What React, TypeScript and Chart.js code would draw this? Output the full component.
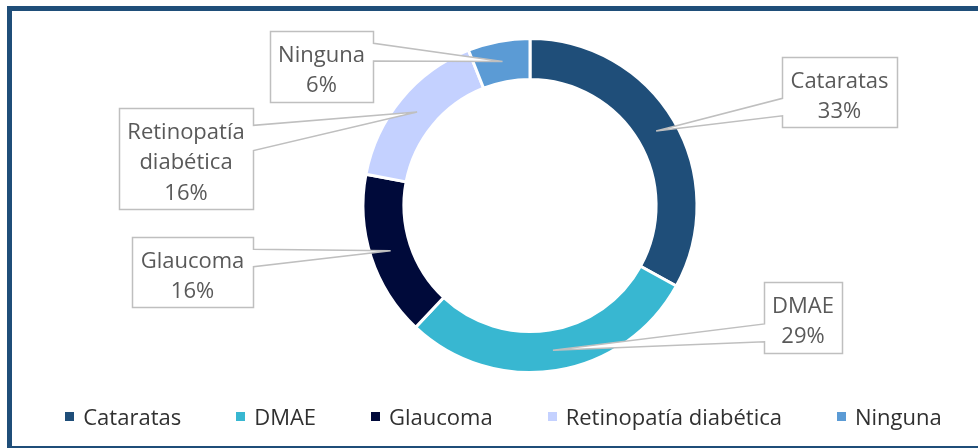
import React, { useEffect, useRef } from "react";
import { Chart, registerables } from "chart.js";

Chart.register(...registerables);

// ---- data ----
const categories = ["Cataratas", "DMAE", "Glaucoma", "Retinopatía diabética", "Ninguna"];
const percentages = [33, 29, 16, 16, 6];
const calloutLines = [["Cataratas"], ["DMAE"], ["Glaucoma"], ["Retinopatía", "diabética"], ["Ninguna"]];
const colors = ["#1F4E79", "#38B7D1", "#000A3A", "#C4D1FF", "#5B9BD5"];

// ---- layout (callout box centres, legend placement) ----
const calloutCenters = [
  [839.5, 92],
  [803, 317.5],
  [192.5, 272],
  [186, 158.5],
  [321.5, 66.5],
];
const LEGEND_CENTER_X = 503.5;
const LEGEND_BASELINE = 425;

const FONT = '"Open Sans", sans-serif';
const FONT_SIZE = 22;

const calloutPlugin = {
  id: "callouts",
  afterDatasetsDraw(chart: any) {
    const ctx = chart.ctx as CanvasRenderingContext2D;
    const meta = chart.getDatasetMeta(0);
    ctx.save();
    ctx.font = `${FONT_SIZE}px ${FONT}`;
    meta.data.forEach((arc: any, i: number) => {
      const tip = arc.getCenterPoint();
      const lines = [...calloutLines[i], `${percentages[i]}%`];
      const tw = Math.max(...lines.map((l) => ctx.measureText(l).width));
      const w = tw + 17;
      const h = 40 + 30.5 * (lines.length - 1);
      const [cx, cy] = calloutCenters[i];
      const l = Math.round(cx - w / 2) + 0.5;
      const r = Math.round(cx + w / 2) + 0.5;
      const t = Math.round(cy - h / 2) + 0.5;
      const b = Math.round(cy + h / 2) + 0.5;
      const hh = b - t;
      const above = tip.y < cy;
      const y1 = t + (hh * (above ? 2 : 7)) / 12;
      const y2 = t + (hh * (above ? 5 : 10)) / 12;
      ctx.beginPath();
      ctx.moveTo(l, t);
      ctx.lineTo(r, t);
      if (tip.x > r) {
        ctx.lineTo(r, y1);
        ctx.lineTo(tip.x, tip.y);
        ctx.lineTo(r, y2);
      }
      ctx.lineTo(r, b);
      ctx.lineTo(l, b);
      if (tip.x < l) {
        ctx.lineTo(l, y2);
        ctx.lineTo(tip.x, tip.y);
        ctx.lineTo(l, y1);
      }
      ctx.closePath();
      ctx.fillStyle = "#FFFFFF";
      ctx.fill();
      ctx.strokeStyle = "#BFBFBF";
      ctx.lineWidth = 1.5;
      ctx.lineJoin = "miter";
      ctx.stroke();
      ctx.fillStyle = "#595959";
      ctx.textAlign = "center";
      ctx.textBaseline = "alphabetic";
      lines.forEach((line, k) => {
        ctx.fillText(line, cx, t + 30 + k * 30.5);
      });
    });
    ctx.restore();
  },
  afterDraw(chart: any) {
    const ctx = chart.ctx as CanvasRenderingContext2D;
    ctx.save();
    ctx.font = `${FONT_SIZE}px ${FONT}`;
    const box = 9;
    const boxGap = 9;
    const itemGap = 55;
    const widths = categories.map((c) => ctx.measureText(c).width);
    const total =
      widths.reduce((s, w) => s + box + boxGap + w, 0) + itemGap * (categories.length - 1);
    let x = LEGEND_CENTER_X - total / 2;
    categories.forEach((c, i) => {
      ctx.fillStyle = colors[i];
      ctx.fillRect(Math.round(x), LEGEND_BASELINE - 13, box, box);
      ctx.fillStyle = "#303030";
      ctx.textAlign = "left";
      ctx.textBaseline = "alphabetic";
      ctx.fillText(c, x + box + boxGap, LEGEND_BASELINE);
      x += box + boxGap + widths[i] + itemGap;
    });
    ctx.restore();
  },
};

export default function App() {
  const canvasRef = useRef<HTMLCanvasElement | null>(null);

  useEffect(() => {
    const canvas = canvasRef.current;
    if (!canvas) return;
    const chart = new Chart(canvas, {
      type: "doughnut",
      data: {
        labels: categories,
        datasets: [
          {
            data: percentages,
            backgroundColor: colors,
            borderColor: "#FFFFFF",
            borderWidth: 3,
            hoverOffset: 0,
          },
        ],
      },
      options: {
        responsive: false,
        animation: false,
        radius: 167,
        cutout: "75.5%",
        layout: { padding: { left: 82, right: 0, top: 0, bottom: 37 } },
        plugins: {
          legend: { display: false },
          tooltip: { enabled: false },
        },
      } as any,
      plugins: [calloutPlugin],
    });
    return () => chart.destroy();
  }, []);

  return (
    <div
      style={{
        position: "absolute",
        left: 0,
        top: 0,
        width: 978,
        height: 448,
        overflow: "hidden",
        background: "#FFFFFF",
      }}
    >
      <canvas
        ref={canvasRef}
        width={978}
        height={448}
        style={{ position: "absolute", left: 0, top: 0, width: 978, height: 448 }}
      />
      <div
        style={{
          position: "absolute",
          left: 7,
          top: 6,
          width: 1000,
          height: 445,
          border: "5px solid #1F4E79",
          boxSizing: "border-box",
          pointerEvents: "none",
        }}
      />
    </div>
  );
}
